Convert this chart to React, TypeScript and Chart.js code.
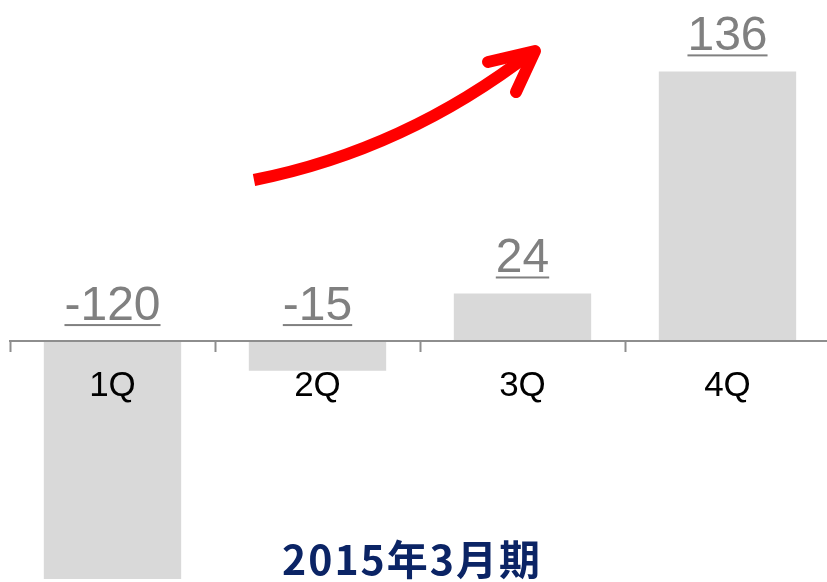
import React, { useEffect, useRef } from "react";
import { Chart, registerables } from "chart.js";

Chart.register(...registerables);

const categories = ["1Q", "2Q", "3Q", "4Q"];
const values = [-120, -15, 24, 136];
const valueLabels = ["-120", "-15", "24", "136"];
const titleText = "2015年3月期";

const overlayPlugin = {
  id: "overlay",
  afterDraw(chart: any) {
    const ctx = chart.ctx;
    const meta = chart.getDatasetMeta(0);
    const yScale = chart.scales.y;
    ctx.save();
    // value labels with underline
    ctx.font = "48px 'Liberation Sans', Arial, sans-serif";
    ctx.fillStyle = "#808080";
    ctx.textAlign = "center";
    ctx.textBaseline = "alphabetic";
    meta.data.forEach((bar: any, i: number) => {
      const v = values[i];
      const y = yScale.getPixelForValue(Math.max(v, 0)) - 21;
      const txt = valueLabels[i];
      const w = ctx.measureText(txt).width;
      ctx.fillText(txt, bar.x, y);
      ctx.fillRect(bar.x - w / 2, y + 4, w, 2);
    });
    // red trend arrow
    ctx.strokeStyle = "#ff0000";
    ctx.lineWidth = 12;
    ctx.lineCap = "butt";
    ctx.beginPath();
    ctx.moveTo(254, 180);
    ctx.quadraticCurveTo(405, 150, 532, 52);
    ctx.stroke();
    ctx.lineCap = "round";
    ctx.lineJoin = "round";
    ctx.beginPath();
    ctx.moveTo(488, 62);
    ctx.lineTo(535, 51);
    ctx.lineTo(516, 92);
    ctx.stroke();
    // title
    ctx.font = "bold 41px 'Noto Sans CJK JP', sans-serif";
    (ctx as any).letterSpacing = "2px";
    ctx.fillStyle = "#0b2465";
    ctx.textAlign = "center";
    ctx.fillText(titleText, 412, 575);
    ctx.restore();
  },
};

export default function App() {
  const ref = useRef<HTMLCanvasElement | null>(null);
  useEffect(() => {
    if (!ref.current) return;
    const chart = new Chart(ref.current, {
      type: "bar",
      data: {
        labels: categories,
        datasets: [
          {
            data: values,
            backgroundColor: "#d9d9d9",
            borderWidth: 0,
            categoryPercentage: 1,
            barPercentage: 0.67,
          },
        ],
      },
      options: {
        responsive: false,
        animation: false,
        layout: { padding: { left: 10, right: 0, top: 0, bottom: 0 } },
        plugins: {
          legend: { display: false },
          tooltip: { enabled: false },
          title: { display: false },
        },
        scales: {
          x: {
            position: { y: 0 } as any,
            offset: true,
            grid: {
              display: true,
              drawOnChartArea: false,
              drawTicks: true,
              tickLength: 10,
              tickWidth: 2,
              tickColor: "#8e8e8e",
              offset: true,
              z: 1,
            } as any,
            border: { display: true, color: "#8e8e8e", width: 2, z: 1 } as any,
            ticks: {
              color: "#000000",
              font: { family: "'Liberation Sans', Arial, sans-serif", size: 35 },
              padding: 14,
              maxRotation: 0,
              autoSkip: false,
              z: 1,
            },
          },
          y: {
            display: false,
            min: -121.5,
            max: 172,
          },
        },
      },
      plugins: [overlayPlugin],
    });
    return () => chart.destroy();
  }, []);
  return (
    <div style={{ position: "fixed", left: 0, top: 0, width: 830, height: 582, background: "#fff" }}>
      <canvas ref={ref} width={830} height={582} style={{ display: "block" }} />
    </div>
  );
}
